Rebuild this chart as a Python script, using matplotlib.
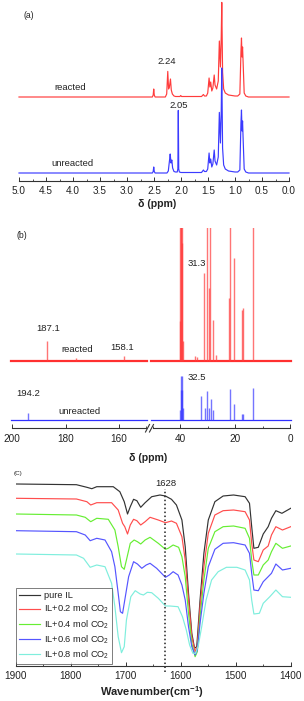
import matplotlib
matplotlib.use("Agg")
import matplotlib.pyplot as plt
from matplotlib.lines import Line2D
from matplotlib.ticker import MultipleLocator, FormatStrFormatter

plt.rcParams['font.family'] = ['Liberation Sans', 'DejaVu Sans']
plt.rcParams['mathtext.fontset'] = 'custom'
plt.rcParams['mathtext.rm'] = 'Liberation Sans'
plt.rcParams['mathtext.bf'] = 'Liberation Sans:bold'

W, H = 304, 701
TXT = '#222222'
AX = '#333333'

# ---- (a) 1H NMR, (ppm, intensity) points ----
h1_reacted = [
    (5.0, 0), (2.53, 0), (2.515, 2), (2.505, 8), (2.495, 2), (2.48, 0),
    (2.29, 0), (2.265, 3), (2.245, 25.6), (2.23, 8), (2.215, 10), (2.195, 18),
    (2.18, 7), (2.16, 3), (2.13, 1), (2.10, 0.5), (2.02, 0.5), (2.005, 1.5),
    (1.99, 0.5), (1.62, 0.5), (1.585, 2.5), (1.565, 1), (1.53, 1), (1.505, 4),
    (1.48, 19), (1.465, 10), (1.45, 15), (1.43, 6), (1.41, 9), (1.385, 22),
    (1.37, 12), (1.34, 8), (1.31, 16), (1.29, 56), (1.27, 30), (1.255, 60),
    (1.245, 94.6), (1.23, 25), (1.21, 8), (1.18, 4), (1.12, 2), (1.0, 1),
    (0.95, 1), (0.91, 3), (0.89, 45), (0.88, 59), (0.87, 40), (0.86, 50),
    (0.85, 35), (0.83, 4), (0.80, 1), (0.75, 0), (0.0, 0)]
h1_unreacted = [
    (5.0, 0), (2.53, 0), (2.515, 1.5), (2.505, 6), (2.495, 1.5), (2.48, 0),
    (2.26, 0), (2.235, 2), (2.21, 14), (2.20, 19), (2.185, 10), (2.17, 13),
    (2.155, 5), (2.13, 1.5), (2.10, 1), (2.07, 1), (2.058, 4), (2.05, 62.6),
    (2.042, 4), (2.03, 1), (2.0, 0.5), (1.62, 0.5), (1.585, 3), (1.565, 1.5),
    (1.53, 1.5), (1.505, 4), (1.48, 20), (1.465, 10), (1.45, 14), (1.43, 6),
    (1.41, 9), (1.385, 23), (1.37, 12), (1.34, 8), (1.31, 16), (1.29, 60.6),
    (1.27, 30), (1.255, 62), (1.245, 105), (1.23, 25), (1.21, 8), (1.18, 4),
    (1.12, 2), (1.0, 1), (0.95, 1), (0.91, 3), (0.89, 50), (0.88, 63),
    (0.87, 42), (0.86, 52), (0.85, 35), (0.83, 4), (0.80, 1), (0.75, 0),
    (0.0, 0)]

# ---- (b) 13C NMR peak positions (ppm) and heights ----
c13_reacted_ppm = [187.1, 176.2, 158.1,
                   40.1, 39.9, 39.7, 39.5, 39.3, 39.1, 38.9, 34.5, 33.8,
                   31.1, 30.2, 29.6, 29.0, 27.9, 26.9, 22.1, 21.7, 20.4,
                   17.6, 17.0, 13.6]
c13_reacted_h = [19.5, 3, 5,
                 40, 200, 200, 200, 200, 118, 20, 5, 4,
                 88, 200, 73, 200, 41, 6, 63, 200, 103,
                 51, 53, 200]
c13_unreacted_ppm = [194.2,
                     40.0, 39.8, 39.6, 39.4, 39.2, 39.0, 32.5, 31.0, 30.2,
                     29.6, 28.9, 28.1, 21.7, 20.3, 17.6, 17.0, 13.6]
c13_unreacted_h = [7,
                   10, 30, 44, 44, 30, 12, 23.5, 11.5, 29,
                   12, 20.5, 9.5, 30.5, 15.5, 6, 6, 32]

# ---- (c) IR spectra ----
ir_labels = ['pure IL', 'IL+0.2 mol CO$_\\mathregular{2}$',
             'IL+0.4 mol CO$_\\mathregular{2}$',
             'IL+0.6 mol CO$_\\mathregular{2}$',
             'IL+0.8 mol CO$_\\mathregular{2}$']
ir_colors = ['#333333', '#ff4d4d', '#66ee33', '#5555ff', '#7feedd']

wn_pure = [1900, 1790, 1771, 1762, 1753, 1723, 1711, 1703, 1697, 1692, 1686,
           1680, 1673, 1665, 1653, 1638, 1628, 1617, 1608, 1598, 1592, 1586,
           1580, 1575, 1571, 1565, 1558, 1550, 1538, 1523, 1504, 1483, 1475,
           1471, 1467, 1459, 1450, 1441, 1435, 1427, 1416, 1400]
ir_pure = [182, 181.3, 178.7, 177.3, 179.3, 179.3, 174.3, 164.3, 152, 159.3,
           166.7, 165.3, 158.7, 163.3, 169.3, 171, 170, 166.7, 161, 146, 119.3,
           72.7, 32.7, 17.7, 19.3, 66, 112.7, 146, 164.3, 170, 171, 169.3,
           162.7, 139.3, 117.7, 118.7, 132, 139.3, 147.7, 155.3, 152.7, 157.7]

wn_02 = [1900, 1790, 1771, 1764, 1753, 1726, 1714, 1706, 1702, 1697, 1692,
         1686, 1680, 1673, 1665, 1656, 1641, 1628, 1617, 1608, 1598, 1592,
         1586, 1580, 1574, 1570, 1565, 1558, 1550, 1538, 1523, 1504, 1483,
         1475, 1471, 1467, 1459, 1450, 1441, 1435, 1427, 1415, 1400]
ir_02 = [167.7, 167, 164.3, 161, 163.3, 163.3, 156, 142.7, 139.3, 132, 141,
         146.7, 145.3, 141, 144.3, 148.7, 146, 143.3, 145, 142.7, 129.3, 106,
         66, 29.3, 14.3, 19.3, 59.3, 99.3, 132.7, 151, 155.3, 156, 154.3, 146,
         122.7, 106, 104.3, 116, 120, 131, 139.3, 136, 139.3]

wn_04 = [1900, 1790, 1774, 1764, 1753, 1732, 1720, 1714, 1708, 1703, 1699,
         1692, 1685, 1679, 1673, 1665, 1656, 1641, 1628, 1623, 1614, 1604,
         1598, 1592, 1586, 1580, 1574, 1570, 1565, 1558, 1550, 1538, 1523,
         1504, 1483, 1475, 1471, 1467, 1459, 1450, 1441, 1435, 1427, 1415, 1400]
ir_04 = [152, 151, 148.7, 144.3, 147.7, 146.7, 136, 119.3, 99.3, 96.7, 106,
         122.7, 126, 124.3, 122, 126, 128.7, 122.7, 116.7, 117.7, 121, 118.7,
         109.3, 89.3, 52.7, 22.7, 9.3, 14.3, 49.3, 86, 117.7, 134.3, 139.3,
         140, 137.7, 127.7, 106, 91, 91, 101, 106, 114.3, 122.7, 117.7, 120]

wn_06 = [1900, 1790, 1774, 1765, 1753, 1738, 1726, 1720, 1714, 1710, 1706,
         1702, 1695, 1686, 1679, 1671, 1663, 1656, 1644, 1628, 1621, 1614,
         1605, 1598, 1592, 1586, 1580, 1574, 1570, 1565, 1558, 1550, 1538,
         1523, 1504, 1483, 1475, 1471, 1467, 1459, 1450, 1441, 1435, 1427,
         1415, 1400]
ir_06 = [135.3, 134.3, 131, 125.3, 127.7, 126, 114.3, 99.3, 72.7, 54.3, 52.7,
         66, 89.3, 104.3, 102, 97.7, 101, 102.7, 97.7, 88.7, 91, 94.3, 91, 81,
         66, 39.3, 19.3, 11, 16, 42.7, 72.7, 99.3, 116.7, 122.7, 123.3, 121,
         112.7, 92.7, 76, 75.3, 84.3, 89.3, 92.7, 102, 96, 97.7]

wn_08 = [1900, 1790, 1777, 1765, 1753, 1738, 1726, 1720, 1714, 1708, 1703,
         1699, 1691, 1683, 1674, 1668, 1661, 1653, 1641, 1628, 1620, 1605,
         1597, 1590, 1584, 1578, 1573, 1568, 1562, 1554, 1544, 1532, 1517,
         1498, 1483, 1475, 1471, 1467, 1457, 1450, 1438, 1427, 1415, 1400]
ir_08 = [112, 111, 107.7, 98.7, 101, 99.3, 82.7, 59.3, 29.3, 13.3, 19.3, 46,
         69.3, 75.3, 72, 71, 73.7, 73.3, 67.7, 60, 60, 59.3, 49.3, 36, 21,
         12.7, 12.7, 21, 39.3, 66, 86, 94.3, 98.7, 98.7, 96, 86, 66, 52, 52.7,
         62.7, 69.3, 76, 69.3, 68.7]

ir_wn = [wn_pure, wn_02, wn_04, wn_06, wn_08]
ir_y = [ir_pure, ir_02, ir_04, ir_06, ir_08]


def box(x0, y0, x1, y1):
    return [x0 / W, 1 - y1 / H, (x1 - x0) / W, (y1 - y0) / H]


def ftext(fig, x, y, s, **kw):
    kw.setdefault('fontsize', 6.8)
    kw.setdefault('color', TXT)
    fig.text(x / W, 1 - y / H, s, ha='center', va='center', **kw)


def style_axis(ax):
    for side in ['left', 'right', 'top']:
        ax.spines[side].set_visible(False)
    ax.spines['bottom'].set_linewidth(0.8)
    ax.spines['bottom'].set_color(AX)
    ax.set_yticks([])
    ax.tick_params(axis='x', which='major', direction='in', length=3,
                   width=0.7, color=AX, labelsize=7.2, labelcolor=TXT, pad=3.5)
    ax.tick_params(axis='x', which='minor', direction='in', length=1.8,
                   width=0.6, color=AX)
    ax.patch.set_alpha(0)


fig = plt.figure(figsize=(W / 100, H / 100), dpi=100)

# ---------------- panel (a) ----------------
ax_a = fig.add_axes(box(19, 2, 289, 181))
style_axis(ax_a)
ax_a.set_xlim(5.0, 0.0)
ax_a.set_ylim(0, 179)
for pts, off, col in [(h1_reacted, 84, '#ff3b3b'), (h1_unreacted, 8, '#3b3bff')]:
    xs = [p[0] for p in pts]
    ys = [p[1] + off for p in pts]
    ax_a.plot(xs, ys, color=col, lw=0.85, clip_on=False)
ax_a.xaxis.set_major_locator(MultipleLocator(0.5))
ax_a.xaxis.set_minor_locator(MultipleLocator(0.25))
ax_a.xaxis.set_major_formatter(FormatStrFormatter('%.1f'))
ftext(fig, 29, 15, '(a)', fontsize=6.2)
ftext(fig, 166.7, 61, '2.24')
ftext(fig, 70, 87, 'reacted')
ftext(fig, 179, 105, '2.05')
ftext(fig, 72, 164, 'unreacted')
ftext(fig, 157, 204, '\u03b4 (ppm)', fontsize=7.6, fontweight='bold')

# ---------------- panel (b) ----------------
ax_bl = fig.add_axes(box(12, 228, 146, 428))
ax_br = fig.add_axes(box(152.5, 228, 290, 428))
for ax, lim in [(ax_bl, (200, 150)), (ax_br, (50, 0))]:
    style_axis(ax)
    ax.set_xlim(*lim)
    ax.set_ylim(0, 200)
    ax.xaxis.set_major_locator(MultipleLocator(20))
    ax.xaxis.set_minor_locator(MultipleLocator(10))
    ax.tick_params(axis='x', pad=4.3)
    ax.plot([lim[0] + 0.5, lim[1] - 0.3], [67, 67], color='#ff3030', lw=1.6,
            clip_on=False)
    ax.plot([lim[0] + 0.5, lim[1] - 0.3], [8, 8], color='#3030ff', lw=0.9,
            clip_on=False)
    ax.vlines(c13_reacted_ppm, 67, [67 + h for h in c13_reacted_h],
              color='#ff3a3a', lw=1.0, alpha=0.7)
    ax.vlines(c13_unreacted_ppm, 8, [8 + h for h in c13_unreacted_h],
              color='#3a3aff', lw=1.0, alpha=0.7)
ax_bl.xaxis.set_major_formatter(
    plt.FuncFormatter(lambda v, p: '%d' % v if v > 150 else ''))
ax_br.xaxis.set_major_formatter(
    plt.FuncFormatter(lambda v, p: '%d' % v if v < 50 else ''))
ax_bl.set_xticks([150], minor=True)

# axis break marks
for x0 in (145.5, 149.5):
    fig.add_artist(Line2D([x0 / W, (x0 + 4) / W], [1 - 432 / H, 1 - 424.5 / H],
                          transform=fig.transFigure, color=AX, lw=0.8))

ftext(fig, 22, 236, '(b)', fontsize=6.2)
ftext(fig, 197, 264, '31.3')
ftext(fig, 48, 328, '187.1')
ftext(fig, 77, 349, 'reacted')
ftext(fig, 122, 348, '158.1')
ftext(fig, 197, 377, '32.5')
ftext(fig, 28, 393, '194.2')
ftext(fig, 79, 411, 'unreacted')
ftext(fig, 148, 458, '\u03b4 (ppm)', fontsize=7.6, fontweight='bold')

# ---------------- panel (c) ----------------
ax_c = fig.add_axes(box(16, 470, 290.7, 666))
style_axis(ax_c)
ax_c.set_xlim(1900, 1400)
ax_c.set_ylim(0, 196)
ax_c.xaxis.set_major_locator(MultipleLocator(100))
ax_c.xaxis.set_minor_locator(MultipleLocator(50))
for xs, ys, lab, col in zip(ir_wn, ir_y, ir_labels, ir_colors):
    ax_c.plot(xs, ys, color=col, lw=0.85, label=lab)
ax_c.plot([1628, 1628], [-6, 177], color='#222222', lw=1.1, ls=(0, (1, 1.6)),
          clip_on=False)
leg = ax_c.legend(loc='lower left', bbox_to_anchor=(0, 0.01), borderaxespad=0,
                  fontsize=6.7, frameon=True, fancybox=False, handlelength=2.3,
                  handletextpad=0.45, labelspacing=0.3, borderpad=0.3)
leg.get_frame().set_edgecolor('#444444')
leg.get_frame().set_linewidth(0.6)
for t in leg.get_texts():
    t.set_color(TXT)
ftext(fig, 18, 474, '(C)', fontsize=4.5)
ftext(fig, 166, 484, '1628')
ftext(fig, 152, 692, 'Wavenumber(cm$^\\mathbf{-1}$)', fontsize=8,
      fontweight='bold')

fig.savefig('out.png', dpi=100)
